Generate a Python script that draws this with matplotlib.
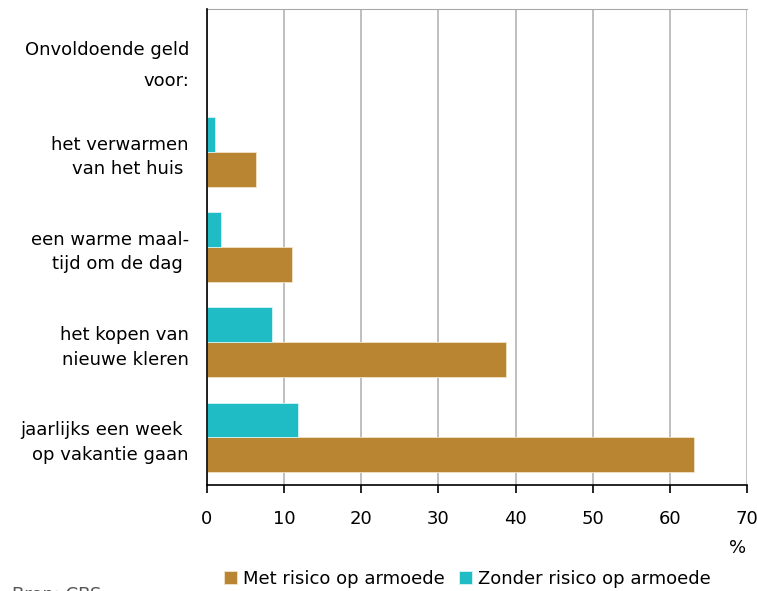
import matplotlib.pyplot as plt
import numpy as np

plt.rcParams['font.family'] = ['DejaVu Sans']

# categories (first entry is the header row without bars)
labels = [
    "Onvoldoende geld\nvoor:",
    "het verwarmen\nvan het huis ",
    "een warme maal-\ntijd om de dag ",
    "het kopen van\nnieuwe kleren",
    "jaarlijks een week \nop vakantie gaan",
]
met_risico = [6.3, 11.0, 38.8, 63.1]
zonder_risico = [1.1, 1.8, 8.4, 11.8]
series_names = ["Met risico op armoede", "Zonder risico op armoede"]
xticks = [0, 10, 20, 30, 40, 50, 60, 70]

brown = "#B98532"
cyan = "#1FBCC6"
fs = 13

fig = plt.figure(figsize=(7.57, 5.91), dpi=100)
ax = fig.add_axes([207 / 757, 1 - 485 / 591, 540 / 757, 476 / 591])

pos = np.arange(1, len(labels))
h = 0.365
ax.barh(pos + h / 2, met_risico, height=h, color=brown, edgecolor="#f3e3c8",
        linewidth=0.6, label=series_names[0], zorder=3)
ax.barh(pos - h / 2, zonder_risico, height=h, color=cyan, edgecolor="#d6f4f6",
        linewidth=0.6, label=series_names[1], zorder=3)

ax.set_xlim(0, 70)
ax.set_ylim(len(labels) - 0.5, -0.5)
ax.set_yticks(np.arange(len(labels)))
ax.set_yticklabels(labels, fontsize=fs, ha="right", linespacing=1.45)
ax.get_yticklabels()[0].set_linespacing(1.95)
ax.tick_params(axis="y", length=0, pad=13)
ax.set_xticks(xticks)
ax.set_xticklabels([str(t) for t in xticks], fontsize=fs)
ax.tick_params(axis="x", length=6, width=1.2, color="black", pad=12, direction="out")

ax.grid(axis="x", color="#b4b4b4", linewidth=1.2, zorder=0)
ax.spines["top"].set_color("#a8a8a8")
ax.spines["right"].set_visible(False)
ax.spines["left"].set_color("black")
ax.spines["left"].set_linewidth(1.2)
ax.spines["bottom"].set_color("black")
ax.spines["bottom"].set_linewidth(1.2)
ax.spines["bottom"].set_zorder(4)
ax.spines["left"].set_zorder(4)

fig.text(738 / 757, 1 - 548 / 591, "%", fontsize=fs, ha="center", va="center")

handles, names = ax.get_legend_handles_labels()
fig.legend(handles, names, loc="center", bbox_to_anchor=(467 / 757, 1 - 579 / 591),
           ncol=2, frameon=False, fontsize=fs, handlelength=0.75, handleheight=0.75,
           handletextpad=0.3, columnspacing=0.8, borderaxespad=0)

fig.text(12 / 757, -9 / 591, "Bron: CBS", fontsize=fs, color="#555555", va="baseline")

plt.savefig("out.png", dpi=100)
